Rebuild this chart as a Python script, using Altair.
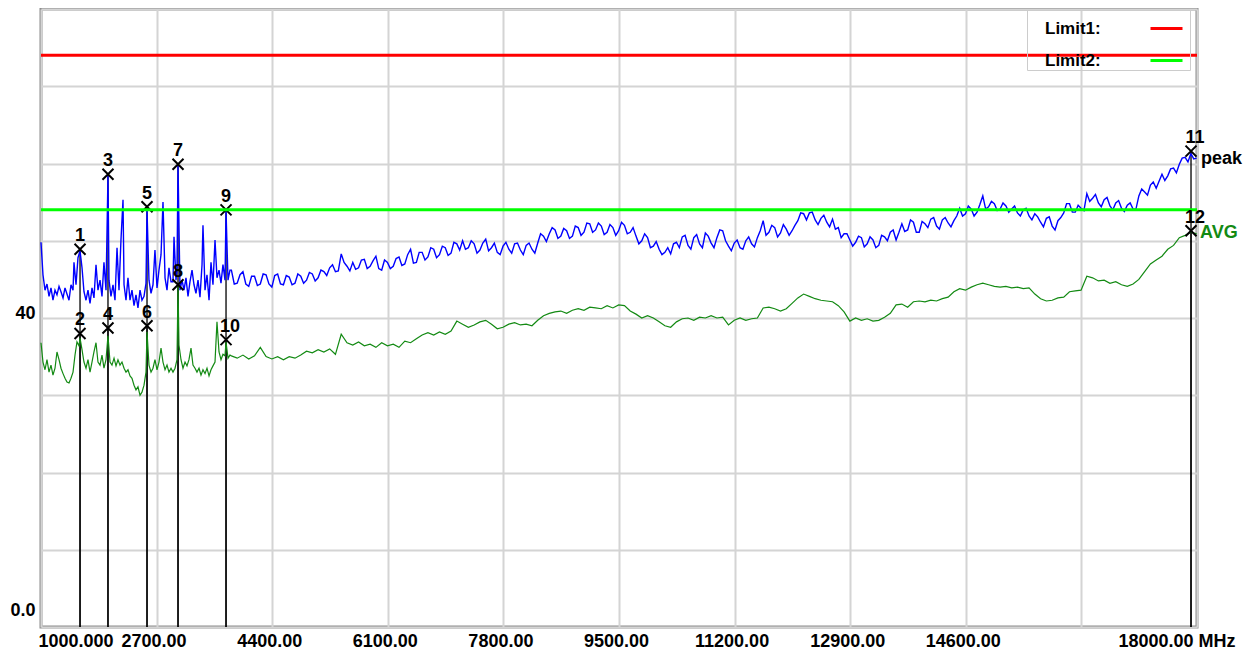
import altair as alt
import pandas as pd

# ---------------- data ----------------
# Peak trace, 1.0-3.8 GHz (spur region)
peak_freq_lo = [1000, 1029, 1059, 1088, 1118, 1147, 1176, 1206, 1235, 1265, 1294, 1324, 1353, 1382, 1412, 1441, 1471,
                1485, 1515, 1544, 1574, 1603, 1632, 1662, 1691, 1721, 1750, 1779, 1809, 1838, 1868, 1897, 1926, 1956, 1985,
                2000, 2029, 2059, 2088, 2118, 2147, 2176, 2206, 2221, 2250, 2279, 2309, 2338, 2368, 2397, 2426, 2456, 2485, 2515, 2544,
                2559, 2588, 2618, 2647, 2676, 2706, 2735, 2765, 2794, 2824, 2853, 2882, 2912, 2941, 2956, 2985, 3000, 3015,
                3044, 3074, 3103, 3132, 3162, 3191, 3221, 3250, 3279, 3309, 3338, 3368, 3382, 3412, 3441, 3471, 3500, 3529,
                3559, 3588, 3618, 3647, 3676, 3706, 3721, 3750, 3779]
peak_lo = [49.8, 45.6, 43.6, 44.4, 42.8, 43.9, 42.3, 43.6, 43.0, 44.1, 43.4, 42.6, 43.9, 43.1, 42.3, 44.3, 43.6,
           47.2, 44.3, 47.8, 48.7, 46.5, 43.4, 42.3, 43.6, 41.9, 43.9, 42.6, 46.9, 43.6, 44.9, 42.8, 47.2, 43.6, 58.4,
           44.9, 42.8, 44.3, 42.3, 49.1, 43.6, 50.1, 55.3, 44.3, 42.3, 45.2, 42.3, 43.6, 41.6, 43.0, 41.3, 43.6, 42.3, 42.8, 44.5,
           53.9, 44.9, 43.2, 44.3, 48.8, 43.9, 46.2, 48.2, 55.0, 45.2, 43.6, 46.5, 44.7, 44.7, 50.5, 44.9, 46.2, 59.8,
           43.6, 44.9, 43.6, 45.2, 42.8, 44.7, 46.2, 44.3, 43.2, 44.9, 42.7, 46.9, 52.0, 43.6, 45.6, 42.3, 47.2, 44.3,
           50.1, 45.2, 46.2, 44.5, 46.9, 44.9, 53.8, 44.9, 46.2]

# Average trace, 1.0-3.8 GHz
avg_freq_lo = [1000, 1029, 1059, 1088, 1118, 1147, 1176, 1206, 1235, 1265, 1294, 1324, 1353, 1382, 1412, 1441, 1471, 1500, 1529, 1559,
               1574, 1603, 1632, 1662, 1691, 1721, 1750, 1779, 1809, 1838, 1868, 1897, 1926, 1956, 1985,
               2015, 2044, 2074, 2103, 2132, 2162, 2191, 2221, 2250, 2279, 2309, 2338, 2368, 2397, 2426, 2456, 2485, 2515, 2544,
               2559, 2588, 2618, 2647, 2676, 2706, 2735, 2765, 2794, 2824, 2853, 2882, 2912, 2941, 2971, 3000,
               3015, 3029, 3059, 3088, 3118, 3147, 3176, 3206, 3235, 3265, 3294, 3324, 3353, 3382, 3412, 3441, 3471, 3500,
               3529, 3559, 3588, 3618, 3647, 3676, 3706, 3721, 3750, 3779]
avg_lo = [36.8, 34.3, 33.3, 34.6, 33.0, 33.9, 32.6, 33.5, 35.6, 34.6, 33.5, 32.8, 32.2, 31.7, 31.6, 32.2, 33.0, 35.2, 36.9, 36.4,
          37.4, 35.9, 34.3, 33.5, 34.6, 33.0, 34.3, 35.6, 36.8, 34.3, 33.9, 35.2, 33.5, 34.6, 37.7,
          34.3, 33.9, 34.8, 33.8, 34.6, 33.9, 34.3, 33.5, 33.0, 33.3, 32.5, 32.2, 31.3, 30.7, 31.1, 30.0, 30.4, 31.3, 33.0,
          38.2, 33.9, 33.0, 33.5, 34.6, 33.3, 34.3, 36.1, 34.3, 33.3, 33.9, 33.0, 33.5, 33.0, 33.5, 34.6,
          44.3, 36.5, 34.6, 33.5, 34.3, 33.8, 34.6, 36.1, 33.9, 33.5, 33.0, 33.5, 32.6, 33.3, 32.8, 33.5, 32.5, 33.3,
          33.8, 34.3, 39.5, 35.6, 34.6, 35.3, 35.1, 36.9, 34.8, 35.2]

# Sweep points 3.8-18 GHz (both traces)
sweep_freq = [3800, 3885, 3970, 4055, 4140, 4225, 4310, 4395, 4480, 4565, 4650, 4735, 4820, 4905, 4990, 5075, 5160, 5245,
              5330, 5415, 5500, 5585, 5670, 5755, 5840, 5925, 6010, 6095, 6180, 6265, 6350, 6435, 6520, 6605, 6690, 6775,
              6860, 6945, 7030, 7115, 7200, 7285, 7370, 7455, 7540, 7625, 7710, 7795, 7880, 7965, 8050, 8135, 8220, 8305,
              8390, 8475, 8560, 8645, 8730, 8815, 8900, 8985, 9070, 9155, 9240, 9325, 9410, 9495, 9580, 9665, 9750, 9835,
              9920, 10005, 10090, 10175, 10260, 10345, 10430, 10515, 10600, 10685, 10770, 10855, 10940, 11025, 11110, 11195,
              11280, 11365, 11450, 11535, 11620, 11705, 11790, 11875, 11960, 12045, 12130, 12215, 12300, 12385, 12470, 12555,
              12640, 12725, 12810, 12895, 12980, 13065, 13150, 13235, 13320, 13405, 13490, 13575, 13660, 13745, 13830, 13915,
              14000, 14085, 14170, 14255, 14340, 14425, 14510, 14595, 14680, 14765, 14850, 14935, 15020, 15105, 15190, 15275,
              15360, 15445, 15530, 15615, 15700, 15785, 15870, 15955, 16040, 16125, 16210, 16295, 16380, 16465, 16550, 16635,
              16720, 16805, 16890, 16975, 17060, 17145, 17230, 17315, 17400, 17485, 17570, 17655, 17740, 17825, 17910, 17995]
peak_hi = [46.2, 44.5, 46.0, 44.1, 45.4, 44.4, 45.6, 44.0, 45.7, 44.3,
           45.3, 44.5, 45.4, 44.9, 45.7, 45.2, 46.0, 46.5, 46.0, 48.3,
           46.7, 47.2, 46.5, 47.6, 46.7, 48.0, 46.2, 47.2, 46.7, 47.9,
           47.0, 48.9, 47.2, 48.5, 47.9, 48.9, 48.2, 49.1, 48.4, 49.6,
           50.0, 49.1, 49.6, 48.8, 50.2, 49.1, 48.5, 49.3, 48.9, 49.6,
           48.8, 49.4, 48.9, 49.7, 50.6, 50.9, 51.4, 50.6, 51.3, 50.6,
           51.7, 51.1, 52.2, 51.4, 51.9, 51.1, 51.7, 51.3, 52.0, 51.1,
           50.6, 50.0, 50.4, 49.3, 48.9, 48.5, 48.3, 49.8, 50.5, 49.4,
           50.4, 49.6, 51.0, 49.7, 50.4, 51.3, 49.3, 49.7, 49.1, 50.0,
           49.6, 50.4, 52.6, 51.1, 51.7, 51.0, 51.5, 51.3, 52.6, 53.5,
           53.6, 52.7, 52.9, 52.4, 52.8, 51.7, 50.9, 50.1, 49.8, 50.4,
           49.6, 50.1, 49.4, 50.5, 51.1, 50.1, 52.2, 51.4, 52.4, 51.1,
           52.2, 52.8, 51.9, 52.7, 52.3, 52.6, 54.2, 53.5, 54.1, 53.7,
           55.8, 54.4, 54.8, 54.1, 54.5, 54.1, 53.6, 54.0, 53.2, 53.5,
           52.4, 52.9, 51.9, 52.6, 53.6, 54.8, 53.7, 54.2, 56.1, 55.5,
           54.9, 55.3, 54.5, 54.9, 54.2, 54.6, 54.1, 55.8, 56.3, 57.2,
           56.8, 58.6, 58.4, 59.4, 59.9, 60.8, 61.3, 60.7]
# In-between peak-trace points (noise texture of the peak detector)
sweep_mid_freq = [3842, 3927, 4012, 4097, 4182, 4267, 4352, 4437, 4522, 4607,
                  4692, 4777, 4862, 4947, 5032, 5117, 5202, 5287, 5372, 5457,
                  5542, 5627, 5712, 5797, 5882, 5967, 6052, 6137, 6222, 6307,
                  6392, 6477, 6562, 6647, 6732, 6817, 6902, 6987, 7072, 7157,
                  7242, 7327, 7412, 7497, 7582, 7667, 7752, 7837, 7922, 8007,
                  8092, 8177, 8262, 8347, 8432, 8517, 8602, 8687, 8772, 8857,
                  8942, 9027, 9112, 9197, 9282, 9367, 9452, 9537, 9622, 9707,
                  9792, 9877, 9962, 10047, 10132, 10217, 10302, 10387, 10472, 10557,
                  10642, 10727, 10812, 10897, 10982, 11067, 11152, 11237, 11322, 11407,
                  11492, 11577, 11662, 11747, 11832, 11917, 12002, 12087, 12172, 12257,
                  12342, 12427, 12512, 12597, 12682, 12767, 12852, 12937, 13022, 13107,
                  13192, 13277, 13362, 13447, 13532, 13617, 13702, 13787, 13872, 13957,
                  14042, 14127, 14212, 14297, 14382, 14467, 14552, 14637, 14722, 14807,
                  14892, 14977, 15062, 15147, 15232, 15317, 15402, 15487, 15572, 15657,
                  15742, 15827, 15912, 15997, 16082, 16167, 16252, 16337, 16422, 16507,
                  16592, 16677, 16762, 16847, 16932, 17017, 17102, 17187, 17272, 17357,
                  17442, 17527, 17612, 17697, 17782, 17867, 17952]
peak_mid = [44.4, 45.6, 44.4, 45.4, 44.2, 45.7, 44.4, 45.5, 44.4, 45.5,
            44.3, 45.7, 44.5, 45.9, 44.8, 46.2, 45.5, 46.9, 46.1, 47.2,
            46.1, 46.3, 47.5, 46.4, 47.4, 46.4, 47.5, 46.4, 47.7, 46.8,
            48.2, 47.1, 48.5, 47.5, 49.1, 47.8, 49.3, 48.1, 49.8, 48.8,
            48.9, 50.0, 48.4, 49.7, 48.7, 49.7, 48.2, 49.8, 48.4, 49.7,
            48.2, 49.7, 48.4, 50.9, 49.9, 51.7, 50.3, 51.6, 50.3, 51.9,
            50.7, 52.3, 51.1, 52.3, 50.8, 52.1, 50.7, 52.4, 50.9, 51.7,
            49.6, 50.9, 49.1, 49.9, 48.2, 49.1, 49.6, 49.1, 50.7, 48.9,
            50.8, 49.1, 50.6, 49.1, 51.4, 50.0, 48.7, 50.1, 48.9, 50.5,
            49.2, 51.3, 50.7, 52.0, 50.5, 52.1, 50.7, 52.0, 53.6, 52.7,
            53.7, 52.1, 53.3, 51.8, 51.5, 50.4, 50.9, 49.3, 50.6, 49.2,
            50.5, 49.1, 50.7, 50.0, 51.4, 51.1, 51.2, 52.7, 51.1, 52.5,
            51.7, 53.0, 51.5, 53.0, 51.8, 53.2, 53.2, 54.5, 53.2, 54.7,
            54.1, 55.1, 53.9, 54.9, 53.7, 54.5, 53.2, 54.2, 52.7, 53.1,
            51.8, 53.1, 51.4, 53.0, 54.8, 53.7, 54.6, 53.9, 55.1, 56.0,
            54.4, 55.6, 54.0, 55.2, 53.8, 54.9, 54.1, 56.7, 55.9, 57.6,
            57.7, 57.8, 59.3, 58.8, 60.7, 60.2, 60.6]
avg_hi = [35.1, 34.8, 35.2, 34.7, 35.1, 36.2, 35.0, 34.7, 35.0, 34.6,
          35.0, 34.8, 35.2, 35.7, 35.5, 35.9, 35.6, 36.0, 35.3, 37.9,
          36.8, 36.5, 36.9, 36.4, 36.6, 36.2, 36.8, 36.4, 36.6, 36.2,
          37.0, 36.8, 37.3, 37.8, 38.1, 37.8, 38.2, 37.9, 38.3, 39.6,
          39.2, 38.8, 39.1, 39.5, 39.7, 39.2, 38.6, 38.8, 39.2, 39.4,
          39.1, 39.2, 39.0, 39.7, 40.3, 40.6, 40.8, 40.9, 40.6, 41.0,
          41.2, 41.0, 41.4, 41.3, 41.2, 41.6, 41.3, 41.7, 41.6, 40.9,
          40.5, 40.0, 40.3, 40.0, 39.5, 39.0, 38.8, 39.5, 39.9, 40.0,
          39.7, 40.1, 40.0, 40.3, 40.0, 40.1, 39.1, 39.7, 40.0, 39.7,
          39.9, 40.0, 41.3, 41.4, 41.2, 40.9, 41.2, 41.9, 42.6, 43.1,
          42.8, 42.5, 42.3, 42.2, 42.1, 41.6, 40.8, 39.6, 40.0, 39.7,
          39.9, 39.6, 39.7, 40.1, 40.6, 41.7, 41.8, 41.4, 42.1, 42.2,
          42.1, 42.3, 42.2, 42.5, 42.7, 43.4, 43.8, 43.6, 44.0, 44.3,
          44.5, 44.3, 44.1, 44.0, 44.1, 43.9, 44.0, 43.8, 43.9, 43.1,
          42.5, 42.2, 42.3, 42.6, 42.7, 43.4, 43.5, 43.6, 45.4, 45.2,
          44.8, 44.9, 44.5, 44.7, 44.3, 44.1, 44.4, 45.0, 46.0, 47.0,
          47.5, 48.0, 48.9, 49.4, 50.4, 50.7, 51.1, 50.9]

limit_names = ["Limit1:", "Limit2:"]
limit_levels = [74, 54]

marker_ids = [1, 2, 3, 4, 5, 6, 7, 8, 9, 10, 11, 12]
marker_freq = [1574, 1574, 1985, 1985, 2559, 2559, 3015, 3015, 3721, 3721, 17912, 17912]
marker_level = [48.9, 38.0, 58.6, 38.7, 54.4, 39.0, 59.9, 44.3, 54.0, 37.2, 61.6, 51.3]
marker_tags = ["", "", "", "", "", "", "", "", "", "", "peak", "AVG"]

x_ticks = [1000, 2700, 4400, 6100, 7800, 9500, 11200, 12900, 14600, 16300, 18000]
y_ticks = [0, 10, 20, 30, 40, 50, 60, 70, 80]

# ---------------- frames ----------------
peak_df = pd.DataFrame({"freq": peak_freq_lo + sweep_freq + sweep_mid_freq,
                        "level": peak_lo + peak_hi + peak_mid}).sort_values("freq")
avg_df = pd.DataFrame({"freq": avg_freq_lo + sweep_freq, "level": avg_lo + avg_hi})
limit_df = pd.DataFrame({"name": limit_names, "level": limit_levels})
marker_df = pd.DataFrame({"id": marker_ids, "freq": marker_freq, "level": marker_level,
                          "label": [str(i) for i in marker_ids], "tag": marker_tags})

FONT = "Liberation Sans"
xs = alt.Scale(domain=[1000, 18000], nice=False, zero=False)
ys = alt.Scale(domain=[0, 80], nice=False, zero=False)

x_axis = alt.Axis(
    values=x_ticks, title=None, grid=True, gridColor="#d4d4d4", gridWidth=2,
    ticks=False, tickSize=0, domain=False,
    labelExpr="datum.value == 1000 ? '1000.000' : datum.value == 16300 ? '' : "
              "datum.value == 18000 ? '18000.00 MHz' : format(datum.value, '.2f')",
    labelAlign={"condition": [{"test": "datum.value == 1000", "value": "left"},
                              {"test": "datum.value == 18000", "value": "right"}],
                "value": "center"},
    labelOffset={"expr": "datum.value == 18000 ? 38 : -3"},
    labelPadding=5, labelBaseline="top", labelFont=FONT, labelFontSize=18,
    labelFontWeight="bold", labelColor="black", labelOverlap=False, labelFlush=False, labelBound=False,
)
y_axis = alt.Axis(
    values=y_ticks, title=None, grid=True, gridColor="#d4d4d4", gridWidth=2,
    ticks=False, tickSize=0, domain=False,
    labelExpr="datum.value == 40 ? '40' : datum.value == 0 ? '0.0' : ''",
    labelBaseline="alphabetic",
    labelOffset={"expr": "datum.value == 0 ? -12 : 0"},
    labelPadding=6, labelFont=FONT, labelFontSize=18, labelFontWeight="bold", labelColor="black",
    labelOverlap=False, labelFlush=False, labelBound=False,
)

X = alt.X("freq:Q", scale=xs, axis=x_axis)
Y = alt.Y("level:Q", scale=ys, axis=y_axis)

marker_lines = alt.Chart(marker_df).mark_rule(color="black", strokeWidth=1.3).encode(
    x=X, y=Y, y2=alt.datum(0)
)

peak_line = alt.Chart(peak_df).mark_line(color="#0000ff", strokeWidth=1.4).encode(x=X, y=Y)
avg_line = alt.Chart(avg_df).mark_line(color="#138a13", strokeWidth=1.2).encode(x=X, y=Y)

marker_x = alt.Chart(marker_df).mark_point(
    shape="M-1,-1L1,1M-1,1L1,-1", size=121, filled=False, stroke="black", strokeWidth=2, opacity=1
).encode(x=X, y=Y)

limits = alt.Chart(limit_df).mark_rule(strokeWidth=3).encode(
    y=Y,
    color=alt.Color(
        "name:N",
        scale=alt.Scale(domain=limit_names, range=["#ff0000", "#00ff00"]),
        legend=alt.Legend(
            title=None, orient="none", legendX=986, legendY=1, direction="vertical",
            symbolType="stroke", symbolSize=1024, symbolStrokeWidth=3,
            symbolOffset=121, labelOffset={"expr": "-139"}, rowPadding=6, padding=1,
            strokeColor="#cccccc", labelFont=FONT, labelFontSize=17, labelFontWeight="bold",
            labelColor="black", labelLimit=0,
        ),
    ),
)

num_small = alt.Chart(marker_df).transform_filter("datum.id < 10").mark_text(
    font=FONT, fontSize=18, fontWeight="bold", color="black", align="center", baseline="alphabetic", dy=-8
).encode(x=X, y=Y, text="label:N")
num_big = alt.Chart(marker_df).transform_filter("datum.id >= 10").mark_text(
    font=FONT, fontSize=18, fontWeight="bold", color="black", align="center", baseline="alphabetic", dy=-8, dx=4
).encode(x=X, y=Y, text="label:N")

tag_peak = alt.Chart(marker_df).transform_filter("datum.tag == 'peak'").mark_text(
    font=FONT, fontSize=18, fontWeight="bold", color="black", align="left", baseline="alphabetic", dx=10, dy=13
).encode(x=X, y=Y, text="tag:N")
tag_avg = alt.Chart(marker_df).transform_filter("datum.tag == 'AVG'").mark_text(
    font=FONT, fontSize=18, fontWeight="bold", color="#138a13", align="left", baseline="alphabetic", dx=9, dy=7
).encode(x=X, y=Y, text="tag:N")

chart = alt.layer(
    marker_lines, peak_line, avg_line, marker_x, limits, num_small, num_big, tag_peak, tag_avg
).properties(
    width=1156, height=618,
    padding={"left": 33, "top": 1, "right": 46, "bottom": 32},
    autosize=alt.AutoSizeParams(type="none"),
    background="white",
).configure_view(stroke="#8c8c8c", strokeWidth=3)

chart.save("out.html", embed_options={"renderer": "svg", "actions": False})
